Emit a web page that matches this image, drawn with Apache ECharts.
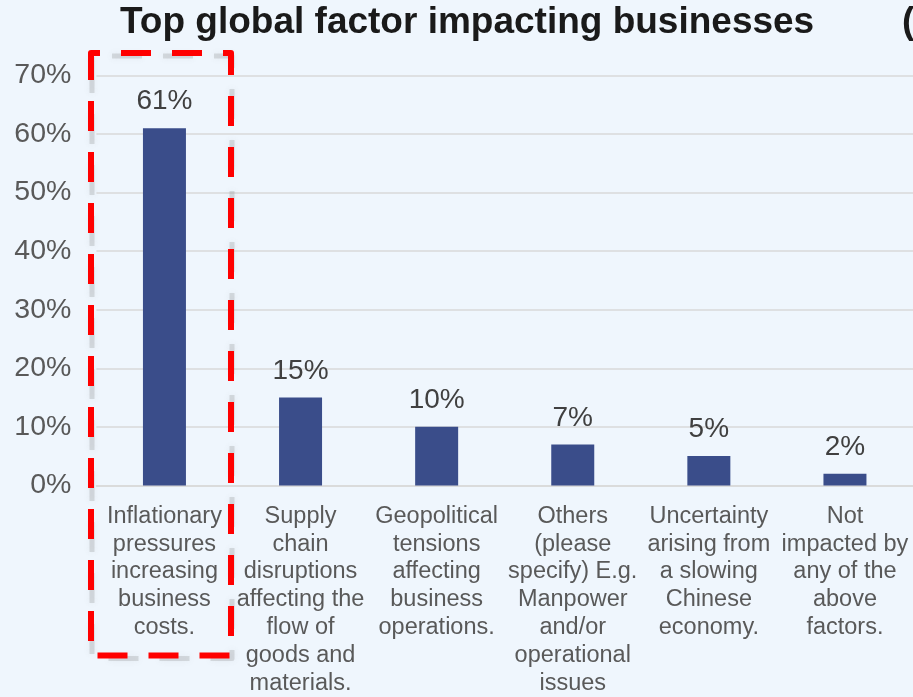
<!DOCTYPE html>
<html>
<head>
<meta charset="utf-8">
<script src="https://cdn.jsdelivr.net/npm/echarts@6/dist/echarts.min.js"></script>
<style>
  html, body { margin: 0; padding: 0; background: #eff6fd; }
  #chart { width: 913px; height: 697px; }
</style>
</head>
<body>
<div id="chart"></div>
<script>
// categories (line breaks as they wrap in the picture)
const categories = [
  'Inflationary\npressures\nincreasing\nbusiness\ncosts.',
  'Supply\nchain\ndisruptions\naffecting the\nflow of\ngoods and\nmaterials.',
  'Geopolitical\ntensions\naffecting\nbusiness\noperations.',
  'Others\n(please\nspecify) E.g.\nManpower\nand/or\noperational\nissues',
  'Uncertainty\narising from\na slowing\nChinese\neconomy.',
  'Not\nimpacted by\nany of the\nabove\nfactors.'
]
const shares = [61, 15, 10, 7, 5, 2] // % of businesses
const yTicks = [0, 10, 20, 30, 40, 50, 60, 70]

const font = 'Liberation Sans, Arial, sans-serif'

// highlight box edges (pixels)
const boxL = 91, boxR = 231, boxT = 53, boxB = 655.5
// closed path starting on the left edge, startY below the top corner, going up first
function boxPath(startY) {
  return [[boxL, startY], [boxL, boxT], [boxR, boxT], [boxR, boxB], [boxL, boxB], [boxL, startY]]
}

const chart = echarts.init(document.getElementById('chart'))
chart.setOption({
  backgroundColor: '#eff6fd',
  animation: false,
  title: [
    {
      text: 'Top global factor impacting businesses',
      left: 120,
      top: 4.5,
      padding: 0,
      textStyle: { fontFamily: font, fontSize: 37, fontWeight: 'bold', color: '#1a1a1a' }
    },
    {
      text: '(',
      left: 902,
      top: 4.5,
      padding: 0,
      textStyle: { fontFamily: font, fontSize: 37, fontWeight: 'bold', color: '#1a1a1a' }
    }
  ],
  grid: { left: 96.4, right: -1.2, top: 75.5, bottom: 207.5, containLabel: false },
  xAxis: {
    type: 'category',
    data: categories,
    axisTick: { show: false },
    axisLine: { lineStyle: { color: '#d9d9d9', width: 1.5 } },
    axisLabel: {
      interval: 0,
      margin: 17,
      fontFamily: font,
      fontSize: 23.5,
      lineHeight: 27.8,
      color: '#595959',
      align: 'center'
    }
  },
  yAxis: {
    type: 'value',
    min: yTicks[0],
    max: yTicks[yTicks.length - 1],
    interval: 10,
    axisLine: { show: false },
    axisTick: { show: false },
    splitLine: { lineStyle: { color: '#d9d9d9', width: 1.5 } },
    axisLabel: {
      formatter: '{value}%',
      margin: 25,
      fontFamily: font,
      fontSize: 28.5,
      color: '#595959'
    }
  },
  series: [
    {
      type: 'bar',
      data: shares,
      barWidth: 43,
      itemStyle: { color: '#3a4d8a' },
      label: {
        show: true,
        position: 'top',
        distance: 12.5,
        formatter: '{c}%',
        fontFamily: font,
        fontSize: 28,
        color: '#404040'
      }
    }
  ],
  graphic: [
    {
      // soft grey shadow of the dashes, a little ahead of them along the path
      type: 'polyline',
      z: 100,
      x: 1,
      y: 3,
      shape: { points: boxPath(84) },
      style: {
        fill: 'none',
        stroke: 'rgba(120,120,120,0.22)',
        lineWidth: 5,
        lineDash: [30, 21],
        lineJoin: 'round',
        shadowColor: 'rgba(120,120,120,0.45)',
        shadowBlur: 6
      }
    },
    {
      // red dashed highlight box around the first category
      type: 'polyline',
      z: 101,
      shape: { points: boxPath(74) },
      style: {
        fill: 'none',
        stroke: '#ff0000',
        lineWidth: 6,
        lineDash: [30, 21],
        lineJoin: 'round'
      }
    }
  ]
})
</script>
</body>
</html>
